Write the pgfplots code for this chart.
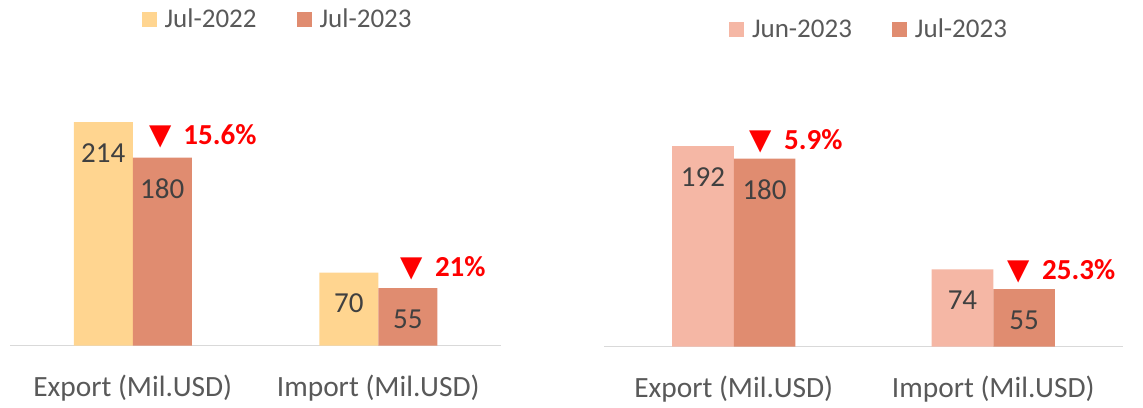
\documentclass[border=0pt]{standalone}
\usepackage{fontspec}
\setmainfont{Carlito}
\newfontfamily\dejavu{DejaVu Sans}
\usepackage{pgfplots}
\pgfplotsset{compat=1.18}
\definecolor{cY}{HTML}{FFD590}
\definecolor{cD}{HTML}{E08C70}
\definecolor{cP}{HTML}{F5B7A5}
\definecolor{txt}{HTML}{595959}
\definecolor{lab}{HTML}{404040}
\definecolor{axl}{HTML}{D9D9D9}
\tikzset{ann/.style={anchor=base west, inner sep=0pt, text=red, font=\bfseries\fontsize{14.5}{17}\selectfont}}
\pgfplotsset{
 mybar/.style={
  scale only axis, ybar=0pt, ymin=0, ymax=250, xmin=-0.5, xmax=1.5,
  height=130.6pt, axis y line=none, axis x line*=bottom,
  x axis line style={axl, line width=0.75pt, -},
  xtick={0,1}, xticklabels={Export (Mil.USD), Import (Mil.USD)},
  major tick length=0pt,
  xticklabel style={anchor=base, yshift=-25.5pt, font=\fontsize{14.7}{17}\selectfont, text=txt},
  nodes near coords, point meta=y, /pgf/number format/assume math mode=true,
  every node near coord/.append style={anchor=center, yshift=-15.5pt, font=\fontsize{14.5}{17}\selectfont, text=lab},
  clip=false,
  legend columns=2,
  legend image code/.code={\fill[##1] (0pt,-3.75pt) rectangle (7.5pt,3.75pt);},
  legend style={draw=none, fill=none, font=\fontsize{13.5}{16}\selectfont, text=txt,
    /tikz/every odd column/.append style={column sep=2pt},
    /tikz/every even column/.append style={column sep=18pt}},
 }
}
\begin{document}
\begin{tikzpicture}
\useasboundingbox (0,0) rectangle (571.5pt,203.5pt);
\begin{axis}[mybar, width=245.5pt, bar width=29.5pt,
  at={(5pt,30.65pt)}, anchor=south west,
  legend style={at={(rel axis cs:0.547,1)}, anchor=center, yshift=32.5pt}]
\addplot[fill=cY, draw=none] coordinates {(0,214) (1,70)};
\addplot[fill=cD, draw=none] coordinates {(0,180) (1,55)};
\legend{Jul-2022, Jul-2023}
\node[ann, yshift=6.5pt] at (axis cs:0.0653,180) {{\dejavu\mdseries ▼}\hspace{6pt}15.6\%};
\node[ann, yshift=6pt] at (axis cs:1.0898,55) {{\dejavu\mdseries ▼}\hspace{6pt}21\%};
\end{axis}
\begin{axis}[mybar, width=259.5pt, bar width=30.8pt,
  at={(302pt,30.15pt)}, anchor=south west,
  legend style={at={(rel axis cs:0.5125,1)}, anchor=center, yshift=27.8pt}]
\addplot[fill=cP, draw=none] coordinates {(0,192) (1,74)};
\addplot[fill=cD, draw=none] coordinates {(0,180) (1,55)};
\legend{Jun-2023, Jul-2023}
\node[ann, yshift=4.75pt] at (axis cs:0.0605,180) {{\dejavu\mdseries ▼}\hspace{6pt}5.9\%};
\node[ann, yshift=4.75pt] at (axis cs:1.055,55) {{\dejavu\mdseries ▼}\hspace{6pt}25.3\%};
\end{axis}
\end{tikzpicture}
\end{document}
